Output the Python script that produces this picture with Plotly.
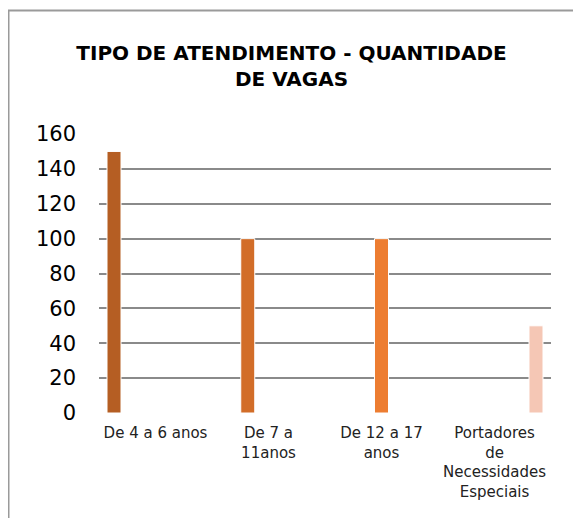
import plotly.graph_objects as go

categories = ["De 4 a 6 anos", "De 7 a<br>11anos", "De 12 a 17<br>anos",
              "Portadores<br>de<br>Necessidades<br>Especiais"]
series_values = [150, 100, 100, 50]
series_colors = ["#B55E23", "#D26D28", "#ED7D31", "#F5C7B5"]
series_slots = [0, 1, 2, 4]  # position in a 5-slot Excel group
y_ticks = [0, 20, 40, 60, 80, 100, 120, 140, 160]

# page has an 8px body margin, so the figure is drawn from (8, 8)
W, H = 573, 510
L, R, T, B = 91, 30, 126, 105
pw, ph = W - L - R, H - T - B

slot_w = 0.1836
bar_w = 0.124

fig = go.Figure()
for i, (cat, val, col, slot) in enumerate(zip(categories, series_values, series_colors, series_slots)):
    center = (slot - 2) * slot_w
    fig.add_trace(go.Bar(
        x=[cat], y=[val],
        width=bar_w, offset=center - bar_w / 2,
        marker=dict(color=col, line=dict(color="white", width=1)),
        showlegend=False, hoverinfo="skip",
    ))

fig.update_layout(
    width=W, height=H,
    margin=dict(l=L, r=R, t=T, b=B, pad=0, autoexpand=False),
    paper_bgcolor="white", plot_bgcolor="white",
    barmode="overlay",
    font=dict(family="DejaVu Sans", color="#000000"),
    title=dict(
        text="<b>TIPO DE ATENDIMENTO - QUANTIDADE<br>DE VAGAS</b>",
        x=283.5 / W, xanchor="center", xref="container",
        y=1 - 52 / H, yanchor="top", yref="container",
        font=dict(family="DejaVu Sans", size=20, color="#000000"),
    ),
    xaxis=dict(
        type="category", categoryorder="array", categoryarray=categories,
        showgrid=False, showline=False, zeroline=False, automargin=False,
        ticks="", tickfont=dict(size=15, color="#222222"),
        ticklabelstandoff=9,
        fixedrange=True,
    ),
    yaxis=dict(
        range=[0, 160], tickvals=y_ticks, ticktext=[str(v) for v in y_ticks],
        showgrid=True, gridcolor="#8A8A8A", gridwidth=2,
        showline=False, zeroline=False, ticks="", automargin=False,
        tickfont=dict(size=21, color="#000000"),
        ticklabelstandoff=22,
        fixedrange=True,
    ),
    shapes=[dict(
        type="rect", xref="paper", yref="paper", layer="below",
        x0=(0.5 - L) / pw, x1=1.3, y0=-0.6, y1=(H - B - 2.5) / ph,
        line=dict(color="#9A9A9A", width=2), fillcolor="rgba(0,0,0,0)",
    )],
)

fig.write_html("out.html")
